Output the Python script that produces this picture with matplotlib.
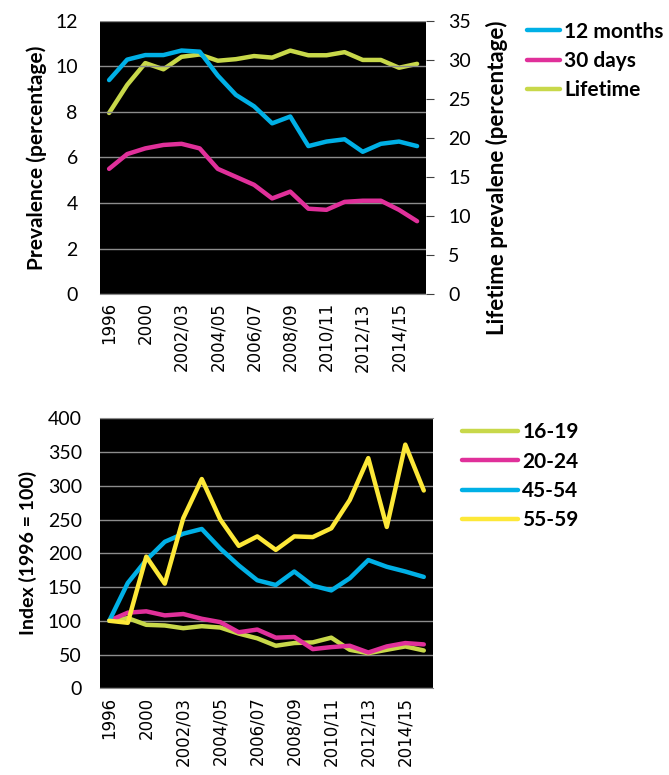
import matplotlib.pyplot as plt
import numpy as np

years = ['1996', '1998', '2000', '2001/02', '2002/03', '2003/04', '2004/05', '2005/06',
         '2006/07', '2007/08', '2008/09', '2009/10', '2010/11', '2011/12', '2012/13',
         '2013/14', '2014/15', '2015/16']

# top panel
months12 = [9.4, 10.3, 10.5, 10.5, 10.7, 10.65, 9.6, 8.75, 8.25, 7.5, 7.8, 6.5, 6.7, 6.8,
            6.25, 6.6, 6.7, 6.5]
days30 = [5.5, 6.15, 6.4, 6.55, 6.6, 6.4, 5.5, 5.15, 4.8, 4.2, 4.5, 3.75, 3.7, 4.05,
          4.1, 4.1, 3.7, 3.2]
lifetime = [23.2, 26.8, 29.6, 28.8, 30.4, 30.7, 29.9, 30.1, 30.5, 30.3, 31.2, 30.6, 30.6,
            31.0, 30.0, 30.0, 29.0, 29.5]

# bottom panel (index, 1996 = 100)
age16_19 = [100, 104, 94, 93, 89, 92, 90, 81, 74, 63, 67, 68, 75, 57, 52, 57, 62, 56]
age20_24 = [100, 112, 114, 108, 110, 103, 98, 83, 87, 75, 76, 58, 61, 63, 53, 62, 67, 65]
age45_54 = [100, 156, 190, 217, 229, 236, 207, 182, 160, 153, 173, 152, 145, 163, 190,
            180, 173, 165]
age55_59 = [100, 97, 195, 155, 252, 310, 250, 211, 225, 205, 225, 224, 237, 279, 341,
            239, 361, 293]

blue = '#00b0e6'
pink = '#e0309a'
lime = '#c8d84a'
yellow = '#fde838'
grid = '#8c8c8c'
lw = 3.2

x = np.arange(len(years))

fig = plt.figure(figsize=(6.69, 7.75), dpi=100)

def style(ax, ymax, step, pad):
    ax.set_facecolor('black')
    ax.set_xlim(-0.5, len(years) - 0.5)
    ax.set_ylim(0, ymax)
    ax.set_yticks(np.arange(0, ymax + 1, step))
    ax.yaxis.grid(True, color=grid, lw=1.0)
    ax.set_axisbelow(True)
    for s in ['left', 'right', 'top']:
        ax.spines[s].set_visible(False)
    ax.spines['bottom'].set_color(grid)
    ax.tick_params(axis='y', length=0, labelsize=14, pad=pad)
    ax.tick_params(axis='x', length=0, pad=6)
    for t in ax.get_yticklabels():
        t.set_fontfamily('Lato')
    ax.set_xticks(x[::2])
    ax.set_xticklabels(years[::2], rotation=90, fontsize=12, fontfamily='DejaVu Sans')

# ---- top chart
ax1 = fig.add_axes([0.1495, 0.6206, 0.4875, 0.3524])
style(ax1, 12, 2, 16)
ax1.plot(x, months12, color=blue, lw=lw, label='12 months', solid_capstyle='round')
ax1.plot(x, days30, color=pink, lw=lw, label='30 days', solid_capstyle='round')
ax1.plot([], [], color=lime, lw=lw, label='Lifetime', solid_capstyle='round')
ax1.set_ylabel('Prevalence (percentage)', fontsize=15, fontweight='bold',
               fontfamily='Lato', labelpad=6)

ax2 = ax1.twinx()
ax2.plot(x, lifetime, color=lime, lw=lw, solid_capstyle='round')
ax2.set_ylim(0, 35)
ax2.set_yticks(np.arange(0, 36, 5))
for s in ['left', 'right', 'top', 'bottom']:
    ax2.spines[s].set_visible(False)
ax2.tick_params(axis='y', length=6, color='#404040', labelsize=14, pad=10, direction='out')
for t in ax2.get_yticklabels():
    t.set_fontfamily('Lato')
ax2.set_ylabel('Lifetime prevalene (percentage)', fontsize=16, fontweight='bold',
               fontfamily='Lato', va='center')
ax2.yaxis.set_label_coords(1.218, 0.425)
ax1.set_zorder(ax2.get_zorder() + 1)
ax1.patch.set_visible(False)
ax2.set_facecolor('black')
ax2.patch.set_visible(True)

fig.legend(*ax1.get_legend_handles_labels(), loc='upper left',
           bbox_to_anchor=(0.775, 0.983), frameon=False, handlelength=1.6,
           handletextpad=0.2, labelspacing=0.45, borderaxespad=0,
           prop={'family': 'Lato', 'weight': 'bold', 'size': 15})

# ---- bottom chart
ax3 = fig.add_axes([0.1495, 0.1119, 0.4978, 0.3484])
style(ax3, 400, 50, 13)
ax3.plot(x, age16_19, color=lime, lw=lw, label='16-19', solid_capstyle='round')
ax3.plot(x, age20_24, color=pink, lw=lw, label='20-24', solid_capstyle='round')
ax3.plot(x, age45_54, color=blue, lw=lw, label='45-54', solid_capstyle='round')
ax3.plot(x, age55_59, color=yellow, lw=lw, label='55-59', solid_capstyle='round')
ax3.set_ylabel('Index (1996 = 100)', fontsize=14, fontweight='bold',
               fontfamily='Lato', labelpad=8)
ax3.spines['top'].set_visible(True)
ax3.spines['top'].set_color(grid)

fig.legend(*ax3.get_legend_handles_labels(), loc='upper left',
           bbox_to_anchor=(0.678, 0.466), frameon=False, handlelength=2.7,
           handletextpad=0.2, labelspacing=0.45, borderaxespad=0,
           prop={'family': 'Lato', 'weight': 'bold', 'size': 15})

fig.savefig('out.png', dpi=100)
